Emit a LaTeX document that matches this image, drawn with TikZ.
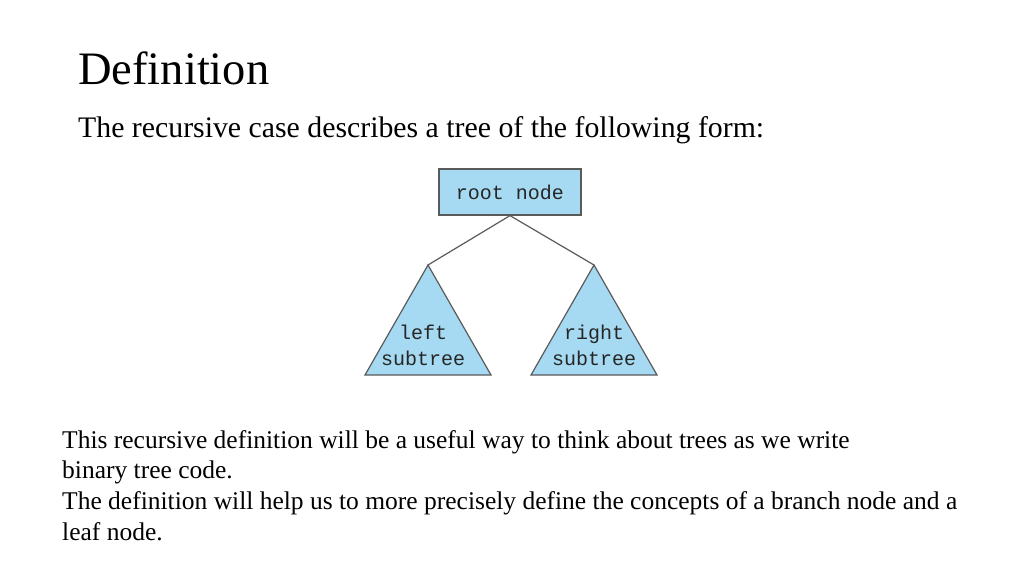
\documentclass[tikz,border=0pt]{standalone}
\usepackage{fontspec}
\setmainfont{Liberation Serif}
\newfontfamily\monof{Liberation Mono}
\definecolor{boxblue}{RGB}{165,218,242}
\definecolor{edge}{RGB}{90,90,90}
\begin{document}
\begin{tikzpicture}[x=1pt,y=-1pt,
  mono/.style={font=\monof\fontsize{20}{26}\selectfont, text=black!85},
  tline/.style={draw=edge, line width=1.2pt},
  body/.style={anchor=base west, font=\fontsize{25.5}{31}\selectfont, inner sep=0}]
\useasboundingbox (0,0) rectangle (1024,576);
\node[anchor=base west, inner sep=0, font=\fontsize{46.5}{50}\selectfont] (title) at (78,84) {Definition};
\node[anchor=base west, inner sep=0, font=\fontsize{29.8}{34}\selectfont] (sub) at (78,137) {The recursive case describes a tree of the following form:};
\node[tline, fill=boxblue, minimum width=142, minimum height=46, inner sep=0, mono] (root) at (510,192) {root node};
\coordinate (la) at (428,265);
\coordinate (ra) at (594,265);
\fill[boxblue] (la) -- (491,375) -- (365,375) -- cycle;
\fill[boxblue] (ra) -- (657,375) -- (531,375) -- cycle;
\draw[tline] (la) -- (491,375) -- (365,375) -- cycle;
\draw[tline] (ra) -- (657,375) -- (531,375) -- cycle;
\draw[tline] (root.south) -- (la);
\draw[tline] (root.south) -- (ra);
\node[mono, align=center, inner sep=0] (lt) at (423,345) {left\\subtree};
\node[mono, align=center, inner sep=0] (rt) at (594,345) {right\\subtree};
\node[body] (p1) at (62,448) {This recursive definition will be a useful way to think about trees as we write};
\node[body] (p2) at (62,478) {binary tree code.};
\node[body] (p3) at (62,509) {The definition will help us to more precisely define the concepts of a branch node and a};
\node[body] (p4) at (62,540) {leaf node.};
\end{tikzpicture}
\end{document}
